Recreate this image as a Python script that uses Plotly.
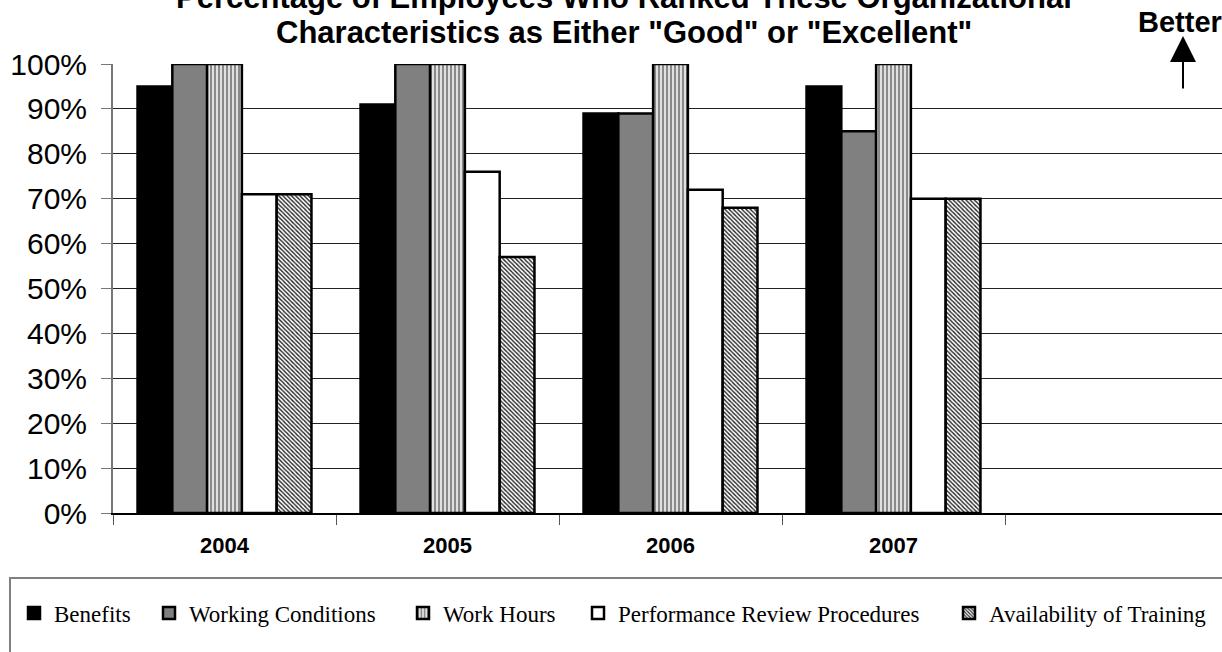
import plotly.graph_objects as go

years = ["2004", "2005", "2006", "2007", ""]
series_names = ["Benefits", "Working Conditions", "Work Hours",
                "Performance Review Procedures", "Availability of Training"]
benefits = [0.95, 0.91, 0.89, 0.95]
working_conditions = [1.00, 1.00, 0.89, 0.85]
work_hours = [1.00, 1.00, 1.00, 1.00]
performance_review = [0.71, 0.76, 0.72, 0.70]
training = [0.71, 0.57, 0.68, 0.70]
y_ticks = [0, 0.1, 0.2, 0.3, 0.4, 0.5, 0.6, 0.7, 0.8, 0.9, 1.0]
title_lines = ["Percentage of Employees Who Ranked These Organizational",
               "Characteristics as Either \"Good\" or \"Excellent\""]

values = [benefits, working_conditions, work_hours, performance_review, training]

styles = [
    dict(color="black"),
    dict(color="#808080"),
    dict(color="white", pattern=dict(shape="|", fgcolor="#8a8a8a", bgcolor="#e0e0e0",
                                     size=4, solidity=0.5, fillmode="replace")),
    dict(color="white"),
    dict(color="white", pattern=dict(shape="\\", fgcolor="#222222", bgcolor="white",
                                     size=3, solidity=0.45, fillmode="replace")),
]

W, H = 1222, 652
L, R, T, B = 113, 0, 64, 139
pw, ph = W - L - R, H - T - B


def px(x):
    return (x - L) / pw


def py(y):
    return (H - B - y) / ph


# text start positions of legend entries (pixels) in the reference
legend_ids = ["legend", "legend2", "legend3", "legend4", "legend5"]
legend_text_x = [52, 187, 441, 616, 987]

fig = go.Figure()
for name, vals, st, lid in zip(series_names, values, styles, legend_ids):
    marker = dict(line=dict(color="black", width=2.5))
    marker.update(st)
    fig.add_trace(go.Bar(x=years[:len(vals)], y=vals, name=name, marker=marker,
                         cliponaxis=False, legend=lid))

legend_layouts = {}
for lid, tx in zip(legend_ids, legend_text_x):
    legend_layouts[lid] = dict(
        orientation="h", x=px(tx - 38), xanchor="left", y=py(613), yanchor="middle",
        font=dict(size=23, family="Liberation Serif, Times New Roman", color="black"),
        bgcolor="rgba(0,0,0,0)", borderwidth=0,
    )

fig.update_layout(
    width=W, height=H,
    margin=dict(l=L, r=R, t=T, b=B, autoexpand=False),
    paper_bgcolor="white", plot_bgcolor="white",
    barmode="group", bargap=0.22, bargroupgap=0,
    font=dict(family="Liberation Sans, Arial", color="black"),
    xaxis=dict(
        type="category", categoryorder="array", categoryarray=years,
        range=[-0.5, 4.5 - 6 / 223],
        tickmode="array", tickvals=years[:4],
        ticktext=["<b>%s</b>" % y for y in years[:4]],
        tickson="boundaries", ticks="outside", ticklen=10, tickcolor="#555555",
        tickwidth=1,
        showline=True, linecolor="black", linewidth=2,
        showgrid=False, zeroline=False, automargin=False,
        tickfont=dict(size=22, family="Liberation Sans, Arial"),
        ticklabelstandoff=12,
    ),
    yaxis=dict(
        range=[0, 1.0], tickvals=y_ticks, tickformat=".0%",
        ticks="outside", ticklen=10, tickcolor="#777777", tickwidth=1,
        showline=True, linecolor="#777777", linewidth=2,
        showgrid=True, gridcolor="#222222", gridwidth=1, zeroline=False,
        automargin=False,
        tickfont=dict(size=30, family="Liberation Sans, Arial"),
        ticklabelstandoff=8,
    ),
    showlegend=True,
    shapes=[
        dict(type="rect", xref="paper", yref="paper",
             x0=px(10), x1=px(1240), y0=py(578), y1=py(700),
             line=dict(color="#808080", width=2), fillcolor="rgba(0,0,0,0)",
             layer="below"),
    ],
    annotations=[
        dict(xref="paper", yref="paper", x=px(624), y=py(-3),
             text="<b>%s</b>" % title_lines[0], showarrow=False,
             xanchor="center", yanchor="middle",
             font=dict(size=31, family="Liberation Sans, Arial", color="black")),
        dict(xref="paper", yref="paper", x=px(624), y=py(33),
             text="<b>%s</b>" % title_lines[1], showarrow=False,
             xanchor="center", yanchor="middle",
             font=dict(size=31, family="Liberation Sans, Arial", color="black")),
        dict(xref="paper", yref="paper", x=px(1224), y=py(22),
             text="<b>Better</b>", showarrow=False, xanchor="right", yanchor="middle",
             font=dict(size=29, family="Liberation Sans, Arial", color="black")),
        dict(xref="paper", yref="paper", x=px(1183), y=py(36),
             ax=0, ay=54, axref="pixel", ayref="pixel", text="",
             showarrow=True, arrowhead=2, arrowsize=2.6, arrowwidth=2,
             arrowcolor="black"),
    ],
    **legend_layouts,
)

fig.write_html("out.html", config={"displayModeBar": False},
               post_script="document.body.style.margin='0px';")
